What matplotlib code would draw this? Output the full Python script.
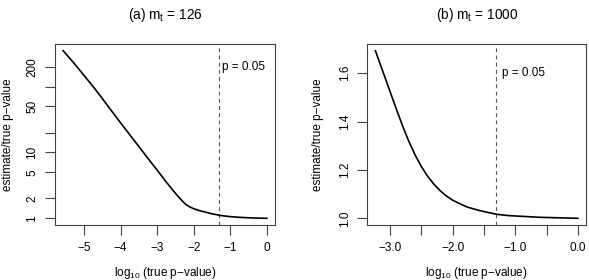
import numpy as np
import matplotlib
matplotlib.use("Agg")
import matplotlib.pyplot as plt
from matplotlib.ticker import FixedLocator, NullLocator, FixedFormatter

plt.rcParams['font.family'] = ['Liberation Sans', 'DejaVu Sans']
plt.rcParams['mathtext.fontset'] = 'custom'
plt.rcParams['mathtext.rm'] = 'Liberation Sans'
plt.rcParams['mathtext.it'] = 'Liberation Sans:italic'

# ---- data ----
# panel (a): m_t = 126  (ratio estimate/true p-value)
x_a = [-5.57, -5.25, -5.0, -4.75, -4.5, -4.25, -4.0, -3.75, -3.5, -3.25, -3.0,
       -2.75, -2.5, -2.4, -2.3, -2.2, -2.1, -2.0, -1.85, -1.7, -1.5, -1.25,
       -1.0, -0.75, -0.5, -0.25, 0.0]
y_a = [351, 219, 148, 100, 66, 43, 28.2, 18.6, 12.3, 8.1, 5.4,
       3.55, 2.40, 2.07, 1.80, 1.60, 1.48, 1.40, 1.31, 1.25, 1.17, 1.10,
       1.06, 1.035, 1.018, 1.007, 1.0]
# panel (b): m_t = 1000
x_b = [-3.234, -3.1, -3.0, -2.9, -2.8, -2.7, -2.6, -2.5, -2.4, -2.3, -2.2,
       -2.1, -2.0, -1.9, -1.774, -1.6, -1.45, -1.296, -1.1, -0.818, -0.6, -0.3, 0.0]
y_b = [1.693, 1.596, 1.524, 1.452, 1.382, 1.318, 1.262, 1.214, 1.174, 1.141, 1.114,
       1.092, 1.075, 1.062, 1.047, 1.034, 1.025, 1.0165, 1.011, 1.007, 1.004, 1.002, 1.0]

p_cut = 0.05
titles = [r"(a) m$_{\rm t}$ = 126", r"(b) m$_{\rm t}$ = 1000"]
xlabel = r"log$_{10}$ (true p−value)"
ylabel = "estimate/true p−value"

# axis ticks
a_yticks = [1, 2, 5, 10, 20, 50, 100, 200]
a_ylabels = ["1", "2", "5", "10", "", "50", "", "200"]
a_xticks = [-5, -4, -3, -2, -1, 0]
a_xlabels = ["−5", "−4", "−3", "−2", "−1", "0"]
b_xticks = [-3.0, -2.5, -2.0, -1.5, -1.0, -0.5, 0.0]
b_xlabels = ["−3.0", "", "−2.0", "", "−1.0", "", "0.0"]
b_yticks = [1.0, 1.2, 1.4, 1.6]

W, H = 589, 280
fig = plt.figure(figsize=(W / 100, H / 100), dpi=100)

def rect(l, r, t, b):
    return [l / W, 1 - b / H, (r - l) / W, (b - t) / H]

axA = fig.add_axes(rect(55, 275, 44, 225))
axB = fig.add_axes(rect(367.3, 586, 44, 225))

spine_c = '#444444'
fs_tick = 8.5

def pad(lo, hi, frac=0.04):
    r = hi - lo
    return lo - frac * r, hi + frac * r

for ax in (axA, axB):
    for s in ax.spines.values():
        s.set_color(spine_c)
        s.set_linewidth(0.8)
    ax.tick_params(direction='out', length=7, width=0.8, color=spine_c,
                   labelsize=fs_tick, pad=5)
    ax.axvline(np.log10(p_cut), color='#555555', lw=0.8, ls=(0, (3.5, 3)))

# panel a
axA.plot(x_a, y_a, color='black', lw=1.2, solid_joinstyle='round')
axA.set_yscale('log')
lo, hi = pad(np.log10(min(y_a)), np.log10(max(y_a)))
axA.set_ylim(10 ** lo, 10 ** hi)
axA.set_xlim(*pad(min(x_a), max(x_a)))
axA.yaxis.set_major_locator(FixedLocator(a_yticks))
axA.yaxis.set_major_formatter(FixedFormatter(a_ylabels))
axA.yaxis.set_minor_locator(NullLocator())
axA.set_xticks(a_xticks)
axA.set_xticklabels(a_xlabels)
axA.annotate("p = 0.05", xy=(np.log10(p_cut), 200), xytext=(3, 0),
             textcoords='offset pixels', ha='left', va='center', fontsize=fs_tick)

# panel b
axB.plot(x_b, y_b, color='black', lw=1.2, solid_joinstyle='round')
axB.set_ylim(*pad(min(y_b), max(y_b)))
axB.set_xlim(*pad(min(x_b), max(x_b)))
axB.set_yticks(b_yticks)
axB.set_yticklabels([f"{v:.1f}" for v in b_yticks])
axB.set_xticks(b_xticks)
axB.set_xticklabels(b_xlabels)
axB.annotate("p = 0.05", xy=(np.log10(p_cut), 1.6), xytext=(6, 0),
             textcoords='offset pixels', ha='left', va='center', fontsize=fs_tick)

for ax, t, ylx in ((axA, titles[0], -0.2136), (axB, titles[1], -0.225)):
    for lab in ax.get_yticklabels():
        lab.set_rotation(90)
        lab.set_va('center')
    ax.set_title(t, fontsize=9.8, y=1 + 28.5 / 181, va='center', pad=0)
    ax.set_xlabel(xlabel, fontsize=fs_tick)
    ax.xaxis.set_label_coords(0.5, -(273 - 225) / 181)
    ax.xaxis.label.set_va('center')
    ax.set_ylabel(ylabel, fontsize=fs_tick)
    ax.yaxis.set_label_coords(ylx, 0.5)
    ax.yaxis.label.set_va('center')

fig.savefig("out.png", dpi=100)
